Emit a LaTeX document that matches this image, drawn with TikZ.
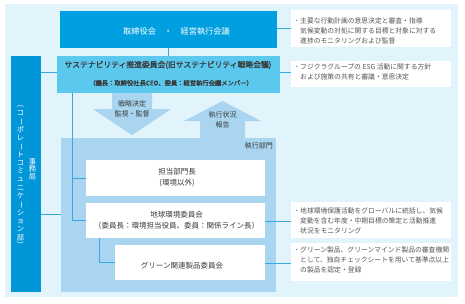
\documentclass[tikz,border=0pt]{standalone}
\usepackage{fontspec}
\usepackage{graphicx}
\setmainfont{Noto Sans CJK JP}
\newfontfamily\jpbold[FakeBold=1.3]{Noto Sans CJK JP}
\newcommand\vrot[1]{\rotatebox[origin=c]{-90}{#1}}
\definecolor{bgc}{HTML}{E1F3FB}
\definecolor{topc}{HTML}{00A0E0}
\definecolor{susc}{HTML}{5BC8EE}
\definecolor{secc}{HTML}{0096D8}
\definecolor{execc}{HTML}{A9D5F0}
\definecolor{linec}{HTML}{35A9E0}
\definecolor{darktext}{HTML}{3A3A3A}
\definecolor{graytext}{HTML}{555555}
\definecolor{bulc}{HTML}{29A8E0}
\tikzset{
  boxbase/.style={inner sep=0pt, outer sep=0pt, anchor=north west, draw=none},
  wbox/.style={boxbase, fill=white},
  conn/.style={draw=linec, line width=0.7pt},
  rtext/.style={align=left, anchor=west, text=graytext, inner sep=0pt, font=\fontsize{6.8}{10}\selectfont},
  ctext/.style={align=center, text=darktext, inner sep=0pt, font=\fontsize{7.5}{11}\selectfont},
  arrtext/.style={align=center, text=darktext, inner sep=0pt, font=\fontsize{7}{10}\selectfont},
  blockarrow/.style={fill=execc, draw=none}
}
\begin{document}
\begin{tikzpicture}[x=1pt,y=-1pt]
\useasboundingbox (0,0) rectangle (465,303);
\fill[bgc] (5,4) rectangle (458,297);

% main boxes
\node[boxbase, fill=topc, minimum width=217pt, minimum height=37pt] (top) at (60,11) {};
\node[boxbase, fill=susc, minimum width=223pt, minimum height=37pt] (sus) at (57,56) {};
\node[boxbase, fill=secc, minimum width=30pt, minimum height=236pt] (sec) at (11,56) {};
\node[boxbase, fill=execc, minimum width=215pt, minimum height=154pt] (exec) at (61,138) {};

% block arrows
\fill[blockarrow] (112,93) -- (152,93) -- (152,109) -- (171,109) -- (132,135) -- (93,109) -- (112,109) -- cycle;
\fill[blockarrow] (200,138) -- (245,138) -- (245,121) -- (261,121) -- (222.5,101) -- (184,121) -- (200,121) -- cycle;
\node[arrtext] (downlbl) at (132,109) {戦略決定\\監視・監督};
\node[arrtext] (uplbl) at (222.5,120) {執行状況\\報告};

% white boxes inside exec
\node[wbox, minimum width=179pt, minimum height=36pt] (tanto) at (86,160) {};
\node[wbox, minimum width=179pt, minimum height=35pt] (earth) at (86,203) {};
\node[wbox, minimum width=150pt, minimum height=35pt] (green) at (115,245) {};

% right boxes
\node[wbox, minimum width=160pt, minimum height=37pt] (r1) at (291,10) {};
\node[wbox, minimum width=160pt, minimum height=26pt] (r2) at (291,61) {};
\node[wbox, minimum width=160pt, minimum height=36pt] (r3) at (291,202) {};
\node[wbox, minimum width=160pt, minimum height=38pt] (r4) at (291,243) {};

% connectors
\coordinate (bus) at ([xshift=15pt]sus.south west);
\coordinate (secj) at (41,214);
\draw[conn] (top.south) -- (top.south |- sus.north);
\draw[conn] (sec.east |- 0,72) -- (sus.west |- 0,72);
\draw[conn] (secj) -- (secj -| exec.west);
\draw[conn] (bus) |- (earth.west);
\draw[conn] (bus |- tanto.west) -- (tanto.west);
\draw[conn] ([xshift=13pt]earth.south west) |- (green.west);
\draw[conn] (top.east |- 0,28) -- (r1.west |- 0,28);
\draw[conn] (sus.east |- 0,72) -- (r2.west |- 0,72);
\draw[conn] (earth.east |- 0,221) -- (r3.west |- 0,221);
\draw[conn] (green.east |- 0,263) -- (r4.west |- 0,263);

% texts
\node[inner sep=0pt, text=white, font=\fontsize{8.2}{10}\selectfont] (toplbl) at (176.5,31) {取締役会　・　経営執行会議};
\node[inner sep=0pt, text=darktext, font=\fontsize{7.8}{10}\jpbold] (suslbl1) at (168,65) {サステナビリティ推進委員会(旧サステナビリティ戦略会議)};
\node[inner sep=0pt, text=darktext, font=\fontsize{6.3}{8}\jpbold] (suslbl2) at (171,83) {（議長：取締役社長CEO、委員：経営執行会議メンバー）};
\node[inner sep=0pt, text=darktext, anchor=east, font=\fontsize{7}{9}\selectfont] (execlbl) at (273,146) {執行部門};
\node[ctext] (tantolbl) at (177,177.5) {担当部門長\\(環境以外)};
\node[ctext] (earthlbl) at (176.5,220.5) {地球環境委員会\\（委員長：環境担当役員、委員：関係ライン長）};
\node[ctext] (greenlbl) at (182,266) {グリーン関連製品委員会};

% vertical text in secretariat box
\node[align=center, inner sep=0pt, text=white, font=\fontsize{7.3}{8.3}\selectfont] (seclbl1) at (20.5,175)
  {\vrot{（}\\コ\\\vrot{ー}\\ポ\\レ\\\vrot{ー}\\ト\\コ\\ミ\\ュ\\ニ\\ケ\\\vrot{ー}\\シ\\ョ\\ン\\部\\\vrot{）}};
\node[align=center, inner sep=0pt, text=white, font=\fontsize{7.3}{7.6}\selectfont] (seclbl2) at (32.5,169)
  {事\\務\\局};

% right box texts
\node[rtext] (r1t) at (300,31) {\llap{\textcolor{bulc}{・}}主要な行動計画の意思決定と審査・指導\\気候変動の対処に関する目標と対象に対する\\進捗のモニタリングおよび監督};
\node[rtext] (r2t) at (300,72) {\llap{\textcolor{bulc}{・}}フジクラグループの ESG 活動に関する方針\\および施策の共有と審議・意思決定};
\node[rtext] (r3t) at (300,221) {\llap{\textcolor{bulc}{・}}地球環境保護活動をグローバルに統括し、気候\\変動を含む年度・中期目標の策定と活動推進\\状況をモニタリング};
\node[rtext] (r4t) at (300,260) {\llap{\textcolor{bulc}{・}}グリーン製品、グリーンマインド製品の審査機関\\として、独自チェックシートを用いて基準点以上\\の製品を認定・登録};
\end{tikzpicture}
\end{document}
